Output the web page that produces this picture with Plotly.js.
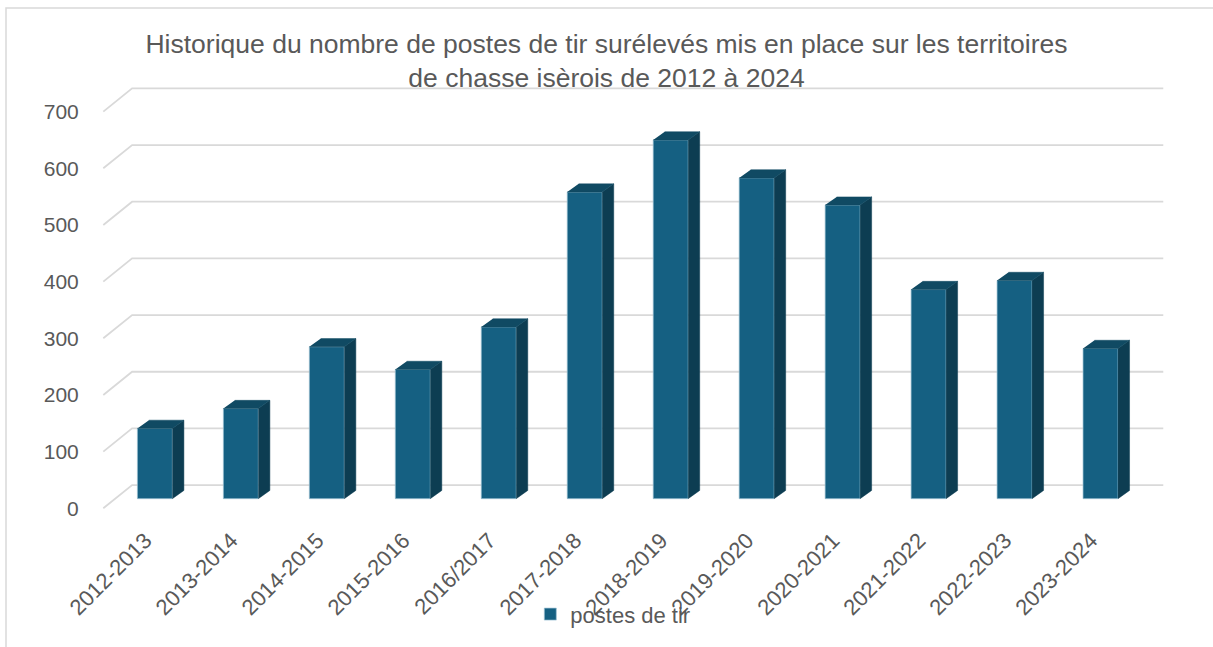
<!DOCTYPE html>
<html>
<head>
<meta charset="utf-8">
<script src="https://cdn.plot.ly/plotly-3.0.1.min.js"></script>
<style>
  html, body { margin: 0; padding: 0; background: #ffffff; }
  #chart { width: 1213px; height: 647px; }
</style>
</head>
<body>
<div id="chart"></div>
<script>
  // data
  const seasons = [
    "2012-2013", "2013-2014", "2014-2015", "2015-2016", "2016/2017", "2017-2018",
    "2018-2019", "2019-2020", "2020-2021", "2021-2022", "2022-2023", "2023-2024",
  ];
  const postes = [124, 159, 268, 228, 303, 541, 633, 566, 518, 369, 385, 265];
  const yTicks = [0, 100, 200, 300, 400, 500, 600, 700];

  // fake 3D look (Excel 3D column)
  const barW = 0.407;   // front face width, in category units
  const depthX = 0.134; // side face depth, category units
  const depthY = 14.5;  // side face depth, value units
  const idx = seasons.map((s, i) => i);

  const sideX = [], sideY = [], topX = [], topY = [];
  postes.forEach((v, i) => {
    const r = i + barW / 2, l = i - barW / 2;
    sideX.push(r, r + depthX, r + depthX, r, null);
    sideY.push(0, depthY, v + depthY, v, null);
    topX.push(l, r, r + depthX, l + depthX, null);
    topY.push(v, v, v + depthY, v + depthY, null);
  });

  const data = [
    {
      type: "bar",
      name: "postes de tir",
      x: idx,
      y: postes,
      width: barW,
      marker: { color: "#156082", line: { color: "rgba(160,195,212,0.7)", width: 1 } },
      hovertemplate: "%{text}: %{y}<extra></extra>",
      text: seasons,
      textposition: "none",
    },
    {
      type: "scatter", mode: "lines", x: sideX, y: sideY, fill: "toself",
      fillcolor: "#0d3d52", line: { color: "#0d3d52", width: 0.5 },
      showlegend: false, hoverinfo: "skip",
    },
    {
      type: "scatter", mode: "lines", x: topX, y: topY, fill: "toself",
      fillcolor: "#104a63", line: { color: "#104a63", width: 0.5 },
      showlegend: false, hoverinfo: "skip",
    },
  ];

  // back wall gridlines with the slanted side-wall piece
  const gridShapes = yTicks.map((v) => ({
    type: "path",
    xref: "x",
    yref: "y",
    layer: "below",
    path: `M -0.6,${v - 17} L -0.265,${v + 24} L 11.73,${v + 24}`,
    line: { color: "#d9d9d9", width: 1.8 },
  }));

  const layout = {
    width: 1213,
    height: 647,
    paper_bgcolor: "#ffffff",
    plot_bgcolor: "#ffffff",
    font: { family: "Liberation Sans, Arial, sans-serif", color: "#595959", size: 21 },
    title: {
      text: "Historique du nombre de postes de tir surélevés mis en place sur les territoires<br>de chasse isèrois de 2012 à 2024",
      font: { size: 26.5, color: "#595959" },
      x: 0.5,
      xref: "container",
      y: 1 - 53 / 647,
      yref: "container",
      yanchor: "middle",
    },
    margin: { l: 99, r: 48, t: 86, b: 137 },
    xaxis: {
      range: [-0.65, 11.75],
      tickvals: idx.map((i) => i - 0.11),
      ticktext: seasons,
      tickangle: -45,
      ticks: "outside",
      ticklen: 8,
      tickcolor: "rgba(0,0,0,0)",
      showgrid: false,
      zeroline: false,
      showline: false,
      tickfont: { size: 22, color: "#595959" },
    },
    yaxis: {
      range: [-20, 728.2],
      tickvals: yTicks.map((v) => v - 17),
      ticktext: yTicks.map(String),
      ticks: "outside",
      ticklen: 15,
      tickcolor: "rgba(0,0,0,0)",
      showgrid: false,
      zeroline: false,
      showline: false,
      tickfont: { size: 21, color: "#595959" },
    },
    showlegend: true,
    legend: {
      orientation: "h",
      x: 0.482,
      xanchor: "center",
      y: -0.246,
      yanchor: "middle",
      font: { size: 22, color: "#595959" },
      bgcolor: "rgba(0,0,0,0)",
    },
    shapes: gridShapes.concat([
      {
        type: "rect",
        xref: "paper",
        yref: "paper",
        x0: (6 - 99) / 1066,
        x1: (1230 - 99) / 1066,
        y0: (510 - 680) / 424,
        y1: (510 - 8) / 424,
        line: { color: "#d9d9d9", width: 1.5 },
        layer: "below",
      },
    ]),
  };

  Plotly.newPlot("chart", data, layout, { displayModeBar: false, responsive: false });
</script>
</body>
</html>
